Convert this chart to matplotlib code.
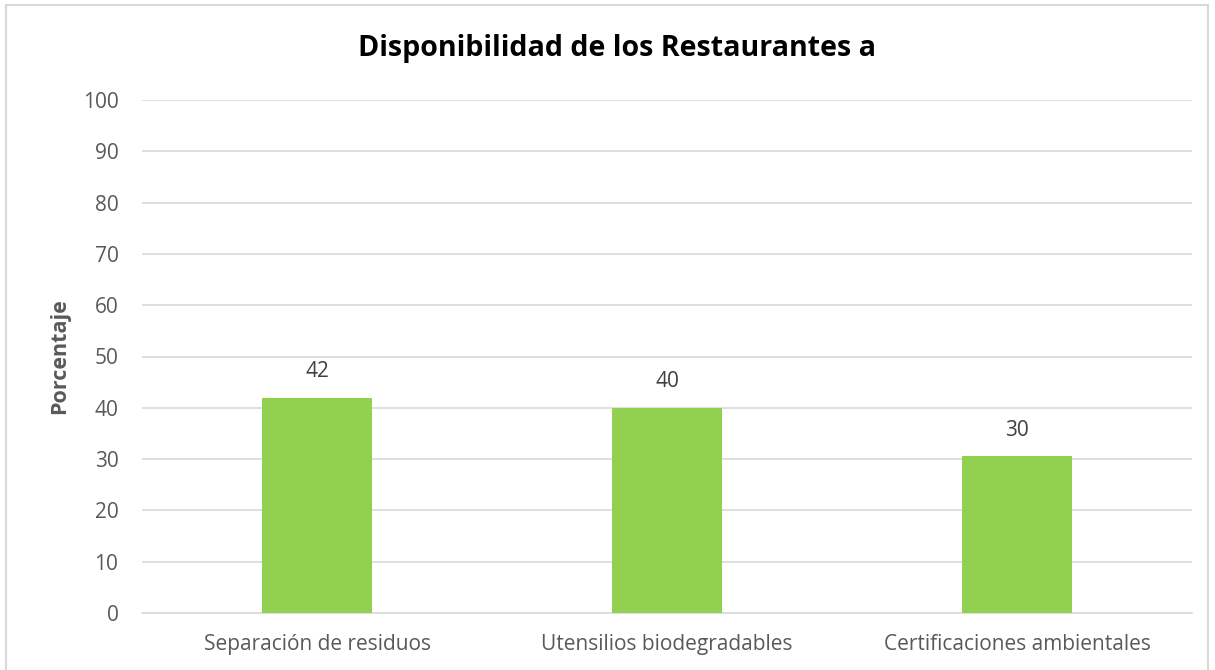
import matplotlib.pyplot as plt
from matplotlib.patches import Rectangle

categories = ["Separación de residuos", "Utensilios biodegradables", "Certificaciones ambientales"]
values = [42, 40, 30.6]
value_labels = ["42", "40", "30"]
yticks = [0, 10, 20, 30, 40, 50, 60, 70, 80, 90, 100]

plt.rcParams['font.family'] = ['Open Sans', 'DejaVu Sans']

fig = plt.figure(figsize=(12.15, 6.7), dpi=100)
ax = fig.add_axes([142 / 1215, 1 - 613 / 670, 1050 / 1215, 513 / 670])

x = range(len(categories))
bars = ax.bar(x, values, width=0.315, color="#92D050", zorder=3)
for b, lab in zip(bars, value_labels):
    ax.text(b.get_x() + b.get_width() / 2, b.get_height() + 3.0, lab,
            ha="center", va="bottom", fontsize=15, color="#404040")

ax.set_xlim(-0.5, len(categories) - 0.5)
ax.set_ylim(0, 100)
ax.set_yticks(yticks)
ax.set_xticks(list(x))
ax.set_xticklabels(categories)
ax.tick_params(axis="both", length=0, labelsize=15, labelcolor="#595959")
ax.tick_params(axis="y", pad=17)
ax.tick_params(axis="x", pad=15)
ax.grid(axis="y", color="#d9d9d9", linewidth=1.2, zorder=0)
for s in ["top", "right", "left"]:
    ax.spines[s].set_visible(False)
ax.spines["bottom"].set_color("#d9d9d9")
ax.spines["bottom"].set_linewidth(1.2)

ax.set_ylabel("Porcentaje", fontsize=15.5, fontweight="bold", color="#595959", labelpad=9)
fig.text(0.508, 0.927, "Disponibilidad de los Restaurantes a", ha="center", va="center",
         fontsize=20.6, fontweight="bold", color="black")

# light frame around the chart
fig.patches.append(Rectangle((6 / 1215, -0.01), 1202 / 1215, 1 - 5 / 670 + 0.01,
                             transform=fig.transFigure, fill=False,
                             edgecolor="#d9d9d9", linewidth=1.5))

fig.savefig("out.png", dpi=100)
